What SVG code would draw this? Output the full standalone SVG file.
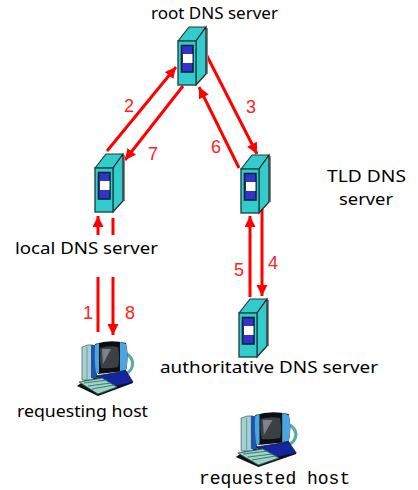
<svg xmlns="http://www.w3.org/2000/svg" width="418" height="490" viewBox="0 0 418 490">
<style>
text{font-family:"Noto Sans","DejaVu Sans",sans-serif}
.lb{font-size:16px;fill:#000}
.m{font-family:"Liberation Mono",monospace;font-size:18px;fill:#000}
.n{font-family:"Liberation Sans",Arial,sans-serif;font-size:18px;fill:#f22;text-anchor:middle}
.a{stroke:#f00;stroke-width:3;fill:none;marker-end:url(#h)}
.l{stroke:#f00;stroke-width:3;fill:none}
</style>
<defs>
<marker id="h" markerUnits="userSpaceOnUse" markerWidth="12" markerHeight="12" refX="11" refY="5.5" orient="auto"><path d="M0 0L11 5.5L0 11z" fill="#f00"/></marker>
<symbol id="srv" overflow="visible">
<path d="M29 1V47" stroke="#888" stroke-width="2" fill="none"/>
<path d="M0 14L11 0H28L18 14z" fill="#33cccc" stroke="#333" stroke-width="1.2" stroke-linejoin="round"/>
<path d="M18 14L28 0V47L18 58z" fill="#33cccc" stroke="#222" stroke-width="1.2"/>
<rect x="0" y="14" width="18" height="44" fill="#33cccc" stroke="#1a4a4a" stroke-width="1.4"/>
<rect x="3.5" y="18.5" width="11.5" height="26.5" fill="#3333cc" stroke="#123" stroke-width="1.6"/>
<rect x="5" y="27" width="9.5" height="9" fill="#fff"/>
</symbol>
<symbol id="pc" overflow="visible">
<path d="M18 56L-3 46L8 38L48 36L53 43z" fill="#111"/>
<path d="M2 7L8 5H13V40H2z" fill="#a8d0d0" stroke="#3c6f6f" stroke-width=".8"/>
<path d="M7 7V39" stroke="#6d9c9c" stroke-width="1"/>
<path d="M11 5H17V38H11z" fill="#1f55a8"/>
<path d="M44 12Q55 18 52 27Q50 33 44 34" fill="none" stroke="#5fa8a8" stroke-width="3"/>
<path d="M16 36L46 31L53 42L32 47z" fill="#1326a0" stroke="#081050" stroke-width=".8"/>
<path d="M15 4Q30 -1 46 3Q49 17 46 31L18 34Q14 20 15 4z" fill="#0b0f14"/>
<path d="M15 5L19 3V33L16 33Q14 20 15 5z" fill="#4aa5e0"/>
<path d="M40 2L46 4Q49 17 46 30L40 31z" fill="#4aa5e0"/>
<path d="M20 8Q29 5 38 7Q40 18 38 27Q29 29 21 28Q19 18 20 8z" fill="#3b4045"/>
<path d="M22 9H31L23 24z" fill="#7b838a"/>
<path d="M-1 42L22 38L37 47L18 54z" fill="#9fd4c8" stroke="#2f5f5f" stroke-width=".9"/>
<path d="M4 43L27 40M8 46L31 43M12 49L34 45" stroke="#3c6f6f" stroke-width=".9"/>
</symbol>
</defs>
<g id="connectors">
<path class="a" d="M107 151L176 67"/>
<path class="a" d="M183 86L125 160"/>
<path class="a" d="M205 52L257 154"/>
<path class="a" d="M239 168L199 87"/>
<path class="a" d="M250 297V216"/>
<path class="a" d="M262 209V296"/>
<path class="a" d="M98 235V216"/>
<path class="l" d="M113 218V235"/>
<path class="l" d="M98 277V332"/>
<path class="a" d="M113 277V335"/>
</g>
<g id="root-dns-server"><use href="#srv" x="178" y="27"/><text class="lb" x="151" y="19" textLength="127" lengthAdjust="spacingAndGlyphs">root DNS server</text></g>
<g id="local-dns-server"><use href="#srv" x="95" y="154"/><text class="lb" x="15" y="254" textLength="143" lengthAdjust="spacingAndGlyphs">local DNS server</text></g>
<g id="tld-dns-server"><use href="#srv" x="241" y="155"/><text class="lb" x="327" y="182" textLength="79" lengthAdjust="spacingAndGlyphs">TLD DNS</text><text class="lb" x="339" y="205" textLength="54" lengthAdjust="spacingAndGlyphs">server</text></g>
<g id="authoritative-dns-server"><use href="#srv" x="239" y="299"/><text class="lb" x="160" y="373" textLength="218" lengthAdjust="spacingAndGlyphs">authoritative DNS server</text></g>
<g id="requesting-host"><use href="#pc" x="80" y="340"/><text class="lb" x="17" y="417" textLength="131" lengthAdjust="spacingAndGlyphs">requesting host</text></g>
<g id="requested-host"><use href="#pc" transform="translate(239 411) scale(1.08 1)"/><text class="m" x="199" y="484">requested host</text></g>
<g id="labels">
<text class="n" x="129" y="112">2</text><text class="n" x="153" y="160">7</text><text class="n" x="251" y="113">3</text><text class="n" x="216" y="153">6</text><text class="n" x="239" y="276">5</text><text class="n" x="273" y="269">4</text><text class="n" x="88" y="319">1</text><text class="n" x="130" y="319">8</text>
</g>
</svg>
